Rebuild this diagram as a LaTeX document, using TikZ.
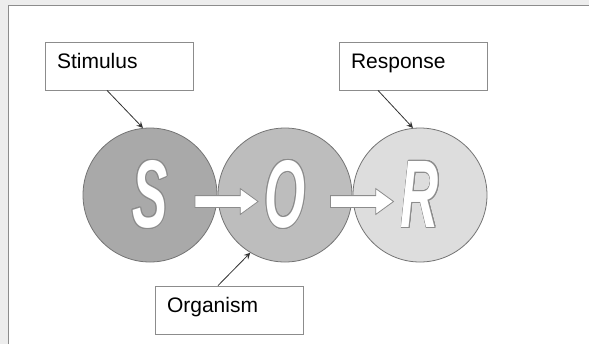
\documentclass[tikz,border=0pt]{standalone}
\usepackage{fontspec}
\setmainfont{Liberation Sans}
\usepackage{graphicx}
\usepackage[copies]{contour}
\usepackage{tikz}
\usetikzlibrary{calc,positioning,arrows,shapes}

\definecolor{sfill}{HTML}{A9A9A9}
\definecolor{ofill}{HTML}{BDBDBD}
\definecolor{rfill}{HTML}{DDDDDD}
\contourlength{0.6pt}

\newcommand{\bigletter}[1]{\scalebox{0.55}[1]{\contour{black!45}{\fontsize{48}{48}\selectfont\bfseries\itshape #1}}}

\begin{document}
\begin{tikzpicture}[x=0.5pt,y=-0.5pt,
  stage/.style={circle,draw=black!55,thin,minimum size=67pt,inner sep=0pt,text=white},
  tag/.style={rectangle,draw=black!45,fill=white,minimum width=74pt,minimum height=24pt,
    text width=62pt,align=left,inner xsep=6pt,inner ysep=3pt,text height=10pt,text depth=8pt,
    font=\fontsize{10.5}{12}\selectfont},
  flow/.style={single arrow,draw=black!45,fill=white,inner sep=0pt,text height=5.5pt,text depth=0pt,
    minimum height=31.5pt,single arrow head extend=3.5pt,single arrow tip angle=72},
  >=stealth]

  \useasboundingbox (0,0) rectangle (589,344);
  \fill[black!7] (0,0) rectangle (8,344);
  \fill[black!7] (0,0) rectangle (589,5);
  \draw[black!45,line width=0.8pt] (8.5,344) -- (8.5,5.5) -- (589,5.5);

  \node[stage,fill=sfill] (s) at (150,195) {\bigletter{S}};
  \node[stage,fill=ofill] (o) at (285,195) {\bigletter{O}};
  \node[stage,fill=rfill] (r) at (420,195) {\bigletter{R}};

  \node[flow] (so) at (222.5,201.5) {};
  \node[flow] (or) at (358,201.5) {};

  \node[tag] (stim) at (119,66) {Stimulus};
  \node[tag] (resp) at (413,66) {Response};
  \node[tag] (org) at (229,310) {Organism};

  \draw[->,black!80] ([xshift=-6pt]stim.south) -- (s.96);
  \draw[->,black!80] ([xshift=-17.5pt]resp.south) -- (r.96);
  \draw[->,black!80] ([xshift=-5.5pt]org.north) -- (o.239);
\end{tikzpicture}
\end{document}
